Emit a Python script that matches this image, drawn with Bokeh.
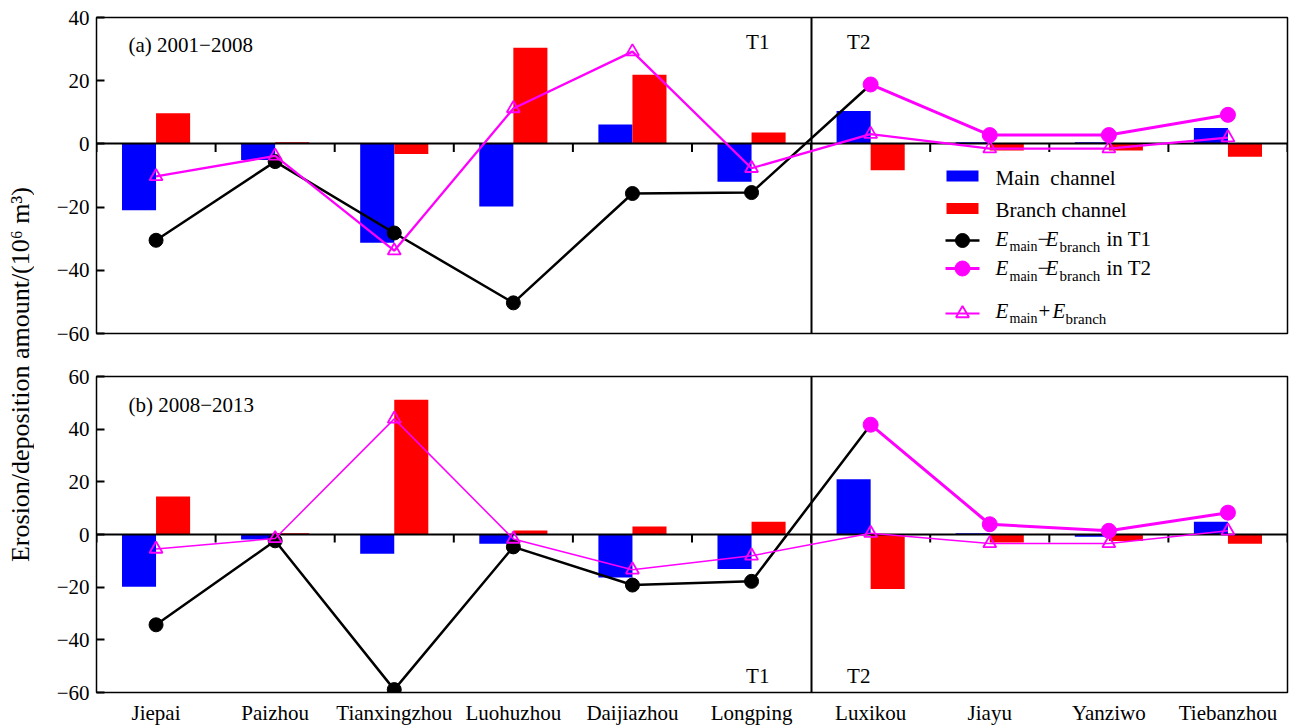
import numpy as np
from bokeh.plotting import figure
from bokeh.layouts import row, column
from bokeh.models import Range1d, FixedTicker, Label
from bokeh.embed import file_html
from bokeh.resources import INLINE

# Sites along the river, upstream to downstream
sites = ["Jiepai", "Paizhou", "Tianxingzhou", "Luohuzhou", "Daijiazhou",
         "Longping", "Luxikou", "Jiayu", "Yanziwo", "Tiebanzhou"]
n_t1 = 6  # the first six sites form reach T1, the rest reach T2

# (a) 2001-2008, erosion/deposition amount in 10^6 m^3
main_a = [-21.0, -5.1, -31.3, -19.8, 6.1, -12.0, 10.4, 0.5, 0.5, 5.0]
branch_a = [9.7, 0.5, -3.2, 30.4, 21.9, 3.6, -8.3, -2.1, -2.1, -4.1]
diff_a = [-30.5, -5.6, -28.2, -50.3, -15.7, -15.4, 18.8, 2.8, 2.8, 9.2]
sum_a = [-10.3, -3.8, -33.8, 11.2, 29.2, -7.7, 3.1, -1.5, -1.5, 2.0]

# (b) 2008-2013
main_b = [-19.8, -1.9, -7.3, -3.5, -16.3, -13.1, 21.0, 0.5, -0.9, 4.8]
branch_b = [14.4, 0.5, 51.2, 1.5, 3.0, 4.8, -20.7, -3.0, -2.5, -3.5]
diff_b = [-34.3, -2.4, -58.9, -4.7, -19.2, -17.8, 41.7, 3.9, 1.4, 8.3]
sum_b = [-5.5, -1.5, 43.9, -1.7, -13.4, -8.1, 0.5, -3.4, -3.4, 1.4]

yticks_a = [-60, -40, -20, 0, 20, 40]
yticks_b = [-60, -40, -20, 0, 20, 40, 60]

FONT = "Liberation Serif"
FS = "21px"
BLUE, RED, MAGENTA = "#0000FF", "#FF0000", "#FF00FF"
FRAME_W, FRAME_H = 1191, 316
BAR_W = 0.286

xc = np.arange(len(sites)) + 0.5


def to_x(px):
    """Pixel distance from the frame's left edge -> x data value."""
    return px * len(sites) / FRAME_W


def to_y(px, lo, hi):
    """Pixel distance from the frame's top edge -> y data value."""
    return hi - px * (hi - lo) / FRAME_H


def label(p, x, y, text, size=FS, style="normal", align="left"):
    p.add_layout(Label(x=x, y=y, text=text, text_font=FONT,
                       text_font_size=size, text_font_style=style,
                       text_align=align, text_baseline="middle",
                       text_color="black"))


def panel(main, branch, diff, total, yticks, tag, tri_w,
          top_border, bottom_border, show_x, tag_mid, t_mid):
    lo, hi = yticks[0], yticks[-1]
    p = figure(frame_width=FRAME_W, frame_height=FRAME_H,
               x_range=Range1d(0, len(sites)), y_range=Range1d(lo, hi),
               output_backend="svg", toolbar_location=None,
               min_border_left=62, min_border_right=6,
               min_border_top=top_border, min_border_bottom=bottom_border,
               x_axis_location="below" if show_x else None)
    p.grid.visible = False
    p.outline_line_color = "black"
    p.outline_line_width = 1.5
    p.outline_line_alpha = 1.0

    ya = p.yaxis[0]
    ya.ticker = FixedTicker(ticks=yticks)
    ya.major_label_overrides = {t: str(t).replace("-", "\u2212") for t in yticks}
    ya.major_tick_in = 8
    ya.major_tick_out = 0
    ya.major_tick_line_width = 2
    ya.minor_tick_line_color = None
    ya.axis_line_color = None
    ya.major_label_text_font = FONT
    ya.major_label_text_font_size = FS
    ya.major_label_text_color = "black"
    ya.major_label_standoff = 7

    if show_x:
        xa = p.xaxis[0]
        xa.ticker = FixedTicker(ticks=list(xc))
        xa.major_label_overrides = {float(x): s for x, s in zip(xc, sites)}
        xa.major_tick_line_color = None
        xa.minor_tick_line_color = None
        xa.axis_line_color = None
        xa.major_label_text_font = FONT
        xa.major_label_text_font_size = FS
        xa.major_label_text_color = "black"
        xa.major_label_standoff = 2

    # main / branch channel bars side by side
    p.vbar(x=xc - BAR_W / 2, top=main, width=BAR_W, fill_color=BLUE, line_color=None)
    p.vbar(x=xc + BAR_W / 2, top=branch, width=BAR_W, fill_color=RED, line_color=None)

    # zero line with short ticks at site boundaries, and the T1/T2 divider
    p.hspan(y=[0], line_color="black", line_width=2)
    p.ray(x=np.arange(len(sites) + 1), y=0, length=8, length_units="screen",
          angle=-np.pi / 2, line_color="black", line_width=2)
    p.vspan(x=[n_t1], line_color="black", line_width=2)

    # main - branch in T1 (line runs on to the first T2 site)
    p.line(xc[:n_t1 + 1], diff[:n_t1 + 1], line_color="black", line_width=2.5)
    p.scatter(xc[:n_t1], diff[:n_t1], marker="circle", size=14,
              fill_color="black", line_color="black")
    # main - branch in T2
    p.line(xc[n_t1:], diff[n_t1:], line_color=MAGENTA, line_width=3)
    p.scatter(xc[n_t1:], diff[n_t1:], marker="circle", size=15,
              fill_color=MAGENTA, line_color=MAGENTA)
    # main + branch
    p.line(xc, total, line_color=MAGENTA, line_width=tri_w)
    p.scatter(xc, total, marker="triangle", size=13, fill_color=None,
              line_color=MAGENTA, line_width=1.8)

    label(p, to_x(32), to_y(tag_mid, lo, hi), tag)
    label(p, n_t1 - to_x(65), to_y(t_mid, lo, hi), "T1")
    label(p, n_t1 + to_x(36), to_y(t_mid, lo, hi), "T2")
    return p


top = panel(main_a, branch_a, diff_a, sum_a, yticks_a, "(a) 2001\u22122008", 2.3,
            17, 21, False, 27, 24)
bottom = panel(main_b, branch_b, diff_b, sum_b, yticks_b, "(b) 2008\u22122013", 1.5,
               22, 33, True, 28, 299)

# legend of the upper panel
lo, hi = yticks_a[0], yticks_a[-1]
sw_x = to_x(866)
tx = 899
rows_px = [158.5, 191, 223, 251, 296]


def ly(px):
    return to_y(px, lo, hi)


top.rect(x=[sw_x], y=[ly(rows_px[0])], width=32, height=11,
         width_units="screen", height_units="screen", fill_color=BLUE, line_color=None)
top.rect(x=[sw_x], y=[ly(rows_px[1])], width=32, height=11,
         width_units="screen", height_units="screen", fill_color=RED, line_color=None)
top.scatter(x=[sw_x], y=[ly(rows_px[2])], marker="dash", size=34,
            line_color="black", line_width=2.5)
top.scatter(x=[sw_x], y=[ly(rows_px[2])], marker="circle", size=14,
            fill_color="black", line_color="black")
top.scatter(x=[sw_x], y=[ly(rows_px[3])], marker="dash", size=34,
            line_color=MAGENTA, line_width=3)
top.scatter(x=[sw_x], y=[ly(rows_px[3])], marker="circle", size=15,
            fill_color=MAGENTA, line_color=MAGENTA)
top.scatter(x=[sw_x], y=[ly(rows_px[4])], marker="dash", size=34,
            line_color=MAGENTA, line_width=2)
top.scatter(x=[sw_x], y=[ly(rows_px[4])], marker="triangle", size=13,
            fill_color=None, line_color=MAGENTA, line_width=1.8)

label(top, to_x(tx), ly(160), "Main\u00a0 channel")
label(top, to_x(tx), ly(192), "Branch channel")


def formula(mid_px, op, tail):
    sub = mid_px + 8
    label(top, to_x(tx), ly(mid_px), "E", style="italic")
    label(top, to_x(tx + 14), ly(sub), "main", size="14px")
    if op == "\u2212":
        label(top, to_x(tx + 42), ly(mid_px), op)
        label(top, to_x(tx + 50), ly(mid_px), "E", style="italic")
        label(top, to_x(tx + 64), ly(sub), "branch", size="15px")
    else:
        label(top, to_x(tx + 43), ly(mid_px), op)
        label(top, to_x(tx + 57), ly(mid_px), "E", style="italic")
        label(top, to_x(tx + 70), ly(sub), "branch", size="15px")
    if tail:
        label(top, to_x(tx + 111), ly(mid_px), tail)


formula(221, "\u2212", "in T1")
formula(250.5, "\u2212", "in T2")
formula(293, "+", "")

# shared y-axis title
side = figure(width=34, height=725, x_range=Range1d(0, 34), y_range=Range1d(0, 725),
              x_axis_location=None, y_axis_location=None, toolbar_location=None,
              output_backend="svg", min_border=0, outline_line_color=None)
side.grid.visible = False
side.add_layout(Label(x=20, y=725 - 374, text="Erosion/deposition amount/(10\u2076 m\u00b3)",
                      angle=np.pi / 2, text_align="center", text_baseline="middle",
                      text_font=FONT, text_font_size="26px", text_color="black"))

layout = row(side, column(top, bottom))
open("out.html", "w").write(file_html(layout, INLINE, title="Erosion and deposition"))
